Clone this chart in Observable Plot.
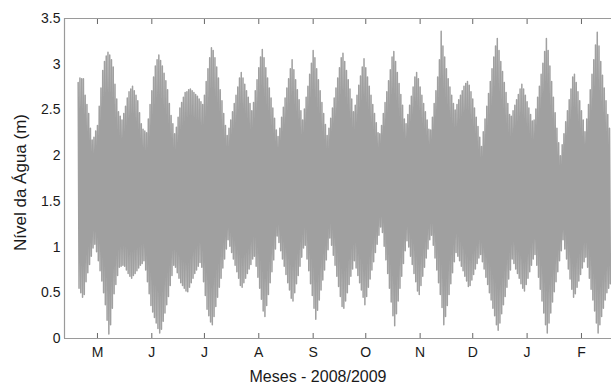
<!DOCTYPE html>
<html><head><meta charset="utf-8">
<script src="https://cdn.jsdelivr.net/npm/d3@7"></script>
<script src="https://cdn.jsdelivr.net/npm/@observablehq/plot@0.6"></script>
<style>body{margin:0;background:#fff} svg{display:block}</style>
</head><body><div id="chart"></div>
<script>
// Daily high / low water levels (m), one pair per day starting at startDate
const startDate = "2008-04-20";
const highs = [
2.80,2.85,2.84,2.84,2.66,2.56,2.46,2.30,2.17,2.20,
2.27,2.33,2.54,2.74,2.93,3.03,3.09,3.13,3.10,3.05,
2.97,2.78,2.62,2.48,2.43,2.39,2.46,2.54,2.63,2.70,
2.73,2.76,2.71,2.66,2.60,2.47,2.35,2.29,2.27,2.25,
2.40,2.56,2.71,2.86,2.98,3.05,3.10,3.04,2.98,2.90,
2.82,2.72,2.57,2.44,2.35,2.24,2.31,2.42,2.52,2.58,
2.64,2.69,2.70,2.72,2.73,2.71,2.69,2.67,2.65,2.62,
2.59,2.56,2.66,2.81,2.95,3.07,3.18,3.15,3.07,2.97,
2.85,2.72,2.60,2.46,2.33,2.22,2.30,2.39,2.48,2.57,
2.66,2.75,2.85,2.91,2.85,2.78,2.71,2.64,2.57,2.49,
2.58,2.71,2.83,2.96,3.08,3.16,3.07,2.96,2.85,2.74,
2.63,2.52,2.41,2.28,2.21,2.30,2.42,2.53,2.63,2.74,
2.84,2.95,3.05,2.94,2.83,2.72,2.61,2.49,2.39,2.51,
2.64,2.76,2.89,3.01,3.15,3.07,2.95,2.83,2.71,2.58,
2.46,2.34,2.22,2.30,2.41,2.52,2.63,2.74,2.85,2.96,
3.07,3.12,3.03,2.93,2.83,2.73,2.62,2.48,2.55,2.66,
2.77,2.87,2.97,3.06,2.96,2.86,2.76,2.66,2.56,2.46,
2.36,2.25,2.24,2.33,2.46,2.58,2.70,2.82,2.94,3.08,
3.14,3.03,2.91,2.79,2.67,2.55,2.40,2.35,2.45,2.55,
2.65,2.75,2.86,2.91,2.84,2.75,2.66,2.57,2.48,2.39,
2.29,2.28,2.42,2.57,2.71,2.86,3.05,3.36,3.20,3.08,
2.95,2.84,2.75,2.66,2.57,2.50,2.56,2.61,2.66,2.71,
2.76,2.79,2.81,2.77,2.70,2.62,2.52,2.42,2.32,2.20,
2.10,2.26,2.40,2.54,2.68,2.81,2.95,3.08,3.20,3.28,
3.15,3.03,2.92,2.80,2.69,2.57,2.45,2.43,2.49,2.55,
2.61,2.67,2.73,2.78,2.73,2.66,2.59,2.52,2.45,2.38,
2.39,2.51,2.64,2.76,2.89,3.01,3.14,3.28,3.15,2.98,
2.81,2.64,2.47,2.30,2.14,2.00,2.12,2.24,2.37,2.49,
2.61,2.73,2.86,2.89,2.80,2.70,2.60,2.49,2.39,2.26,
2.40,2.56,2.72,2.89,3.05,3.21,3.35,3.20,3.03,2.88,
2.74,2.60,2.45,2.30];
const lows = [
0.55,0.50,0.45,0.48,0.62,0.72,0.81,0.90,0.99,1.03,
0.95,0.85,0.74,0.63,0.50,0.37,0.20,0.05,0.15,0.33,
0.49,0.59,0.69,0.78,0.79,0.80,0.79,0.75,0.71,0.68,
0.66,0.69,0.71,0.74,0.77,0.80,0.82,0.85,0.75,0.62,
0.49,0.36,0.29,0.23,0.17,0.11,0.06,0.10,0.19,0.28,
0.37,0.46,0.58,0.69,0.80,0.78,0.72,0.66,0.61,0.58,
0.55,0.52,0.51,0.56,0.61,0.66,0.71,0.75,0.79,0.83,
0.78,0.62,0.47,0.32,0.25,0.18,0.15,0.24,0.35,0.45,
0.56,0.66,0.77,0.87,0.98,1.08,1.01,0.94,0.87,0.80,
0.73,0.66,0.58,0.56,0.61,0.66,0.71,0.76,0.81,0.87,
0.90,0.79,0.67,0.55,0.43,0.30,0.24,0.36,0.48,0.61,
0.73,0.86,0.98,1.12,1.05,0.96,0.87,0.79,0.70,0.61,
0.53,0.44,0.41,0.50,0.60,0.69,0.79,0.89,0.99,1.02,
0.87,0.74,0.60,0.47,0.33,0.21,0.31,0.42,0.53,0.64,
0.75,0.86,0.97,1.10,1.02,0.91,0.80,0.68,0.57,0.46,
0.35,0.33,0.41,0.50,0.59,0.68,0.76,0.85,0.77,0.69,
0.61,0.53,0.45,0.37,0.46,0.56,0.65,0.75,0.84,0.94,
1.03,1.13,1.22,1.16,1.01,0.86,0.71,0.55,0.40,0.25,
0.14,0.27,0.41,0.55,0.68,0.82,0.96,1.07,1.00,0.90,
0.81,0.71,0.62,0.52,0.48,0.58,0.68,0.78,0.88,0.98,
1.08,1.13,1.02,0.88,0.75,0.61,0.48,0.34,0.15,0.24,
0.36,0.48,0.60,0.72,0.84,0.94,0.90,0.85,0.79,0.74,
0.68,0.63,0.57,0.58,0.64,0.70,0.76,0.82,0.88,0.92,
0.84,0.76,0.67,0.59,0.50,0.42,0.33,0.25,0.15,0.09,
0.17,0.27,0.37,0.46,0.56,0.65,0.75,0.87,0.82,0.76,
0.71,0.66,0.60,0.55,0.52,0.59,0.66,0.73,0.80,0.87,
0.92,0.80,0.67,0.54,0.41,0.28,0.15,0.06,0.17,0.28,
0.40,0.51,0.62,0.73,0.85,0.96,1.08,0.98,0.87,0.76,
0.65,0.54,0.45,0.49,0.56,0.63,0.70,0.77,0.84,0.89,
0.78,0.66,0.54,0.42,0.30,0.17,0.06,0.15,0.24,0.33,
0.42,0.50,0.55,0.60];
const monthTicks = ["2008-05-01","2008-06-01","2008-07-01","2008-08-01","2008-09-01","2008-10-01","2008-11-01","2008-12-01","2009-01-01","2009-02-01"];
const monthLabels = ["M","J","J","A","S","O","N","D","J","F"];
const yTicks = [0, 0.5, 1, 1.5, 2, 2.5, 3, 3.5];
const xDomain = ["2008-04-12T05:00:00Z", "2009-02-18T03:00:00Z"];
const yTitle = "Nível da Água (m)";
const xTitle = "Meses - 2008/2009";

const DAY = 864e5;
const t0 = Date.parse(startDate + "T00:00:00Z");
const series = [];
highs.forEach((h, i) => {
  series.push({t: new Date(t0 + i * DAY), v: h});
  series.push({t: new Date(t0 + i * DAY + DAY / 2), v: lows[i]});
});
const tickDates = monthTicks.map(s => new Date(s + "T00:00:00Z"));
const labelOf = new Map(tickDates.map((d, i) => [+d, monthLabels[i]]));
const dom = xDomain.map(s => new Date(s));

const chart = Plot.plot({
  width: 611, height: 384,
  marginLeft: 64, marginTop: 18, marginBottom: 46, marginRight: 0,
  style: {fontFamily: "'Liberation Sans', Arial, sans-serif", fontSize: "14px", color: "#1a1a1a", background: "#fff", overflow: "visible"},
  x: {type: "utc", domain: dom},
  y: {domain: [0, 3.5]},
  marks: [
    Plot.lineY(series, {x: "t", y: "v", stroke: "#a0a0a0", strokeWidth: 1.5}),
    Plot.ruleY([0], {stroke: "#9a9a9a", strokeWidth: 1.2}),
    Plot.ruleY([3.5], {stroke: "#9a9a9a", strokeWidth: 1.2}),
    Plot.ruleX([dom[0]], {stroke: "#9a9a9a", strokeWidth: 1.2}),
    Plot.axisY({ticks: yTicks, tickSize: 0, tickPadding: 4, tickFormat: d => String(d), label: null, fontSize: 14}),
    Plot.axisX({ticks: tickDates, tickSize: -5, text: null, label: null, stroke: "#666"}),
    Plot.axisX({anchor: "top", ticks: tickDates, tickSize: -5, text: null, label: null, stroke: "#666"}),
    Plot.axisX({ticks: tickDates, tickSize: 0, tickPadding: 9, tickFormat: d => labelOf.get(+d), label: null, fontSize: 14}),
    Plot.text([yTitle], {frameAnchor: "left", textAnchor: "middle", lineAnchor: "middle", dx: -44, dy: 4, rotate: -90, fontSize: 17, fill: "#1a1a1a"}),
    Plot.text([xTitle], {frameAnchor: "bottom", textAnchor: "middle", lineAnchor: "middle", dx: -20, dy: 38, fontSize: 16, fill: "#1a1a1a"})
  ]
});
document.getElementById("chart").append(chart);
</script>
</body></html>
